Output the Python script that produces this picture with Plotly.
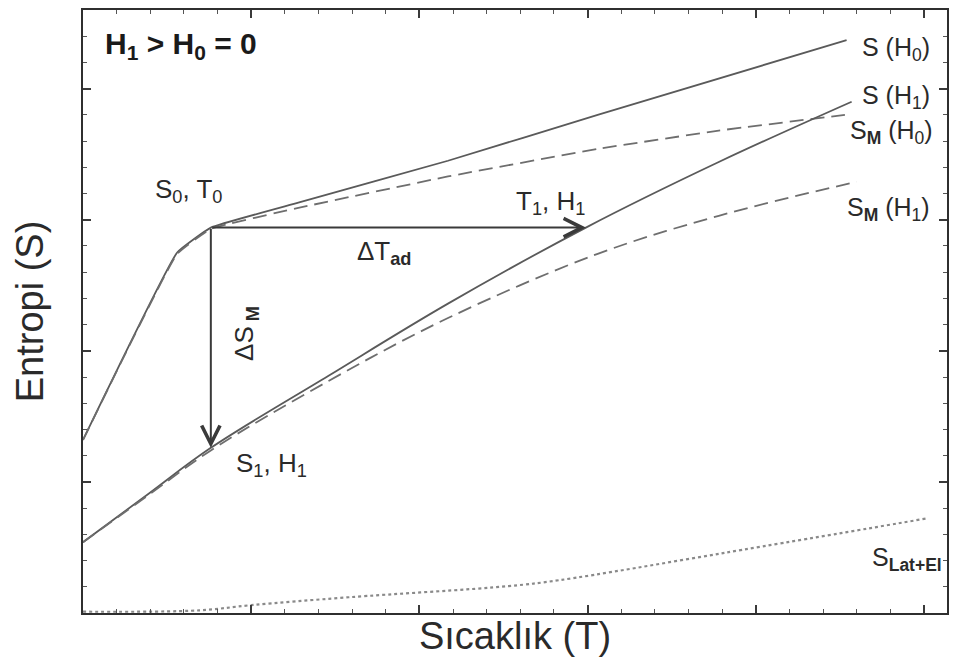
import plotly.graph_objects as go

# Entropy curves vs temperature (arbitrary units)
t_s_h0 = [0.0, 0.56, 0.76, 1.28, 2.17, 3.06, 4.54]
s_s_h0 = [1.32, 2.75, 2.94, 3.13, 3.45, 3.80, 4.37]

t_sm_h0 = [0.0, 0.56, 0.76, 1.28, 2.17, 3.06, 3.78, 4.53]
s_sm_h0 = [1.32, 2.74, 2.93, 3.09, 3.33, 3.54, 3.68, 3.80]

t_s_h1 = [0.0, 0.39, 0.76, 1.46, 2.17, 2.99, 3.78, 4.57]
s_s_h1 = [0.54, 0.91, 1.26, 1.81, 2.36, 2.94, 3.44, 3.90]

t_sm_h1 = [0.0, 0.39, 0.76, 1.46, 2.17, 3.06, 3.78, 4.60]
s_sm_h1 = [0.54, 0.90, 1.24, 1.77, 2.25, 2.74, 3.03, 3.29]

t_lat = [0.0, 0.69, 1.0, 1.58, 2.53, 2.83, 3.82, 5.01]
s_lat = [0.01, 0.02, 0.06, 0.12, 0.205, 0.25, 0.46, 0.72]

# Adiabatic / isothermal process points
T0, S0 = 0.76, 2.94
T1 = 2.99
S1 = 1.26

FONT = "Liberation Sans, Arial, sans-serif"
SOLID = "#5a5a5a"
DASH = "#6e6e6e"

fig = go.Figure()

def curve(x, y, dash, color, width=1.8, smoothing=1.0):
    fig.add_trace(go.Scatter(
        x=x, y=y, mode="lines", showlegend=False, hoverinfo="skip",
        line=dict(color=color, width=width, dash=dash, shape="spline", smoothing=smoothing),
    ))

curve(t_s_h0, s_s_h0, "solid", SOLID, smoothing=0.3)
curve(t_sm_h0, s_sm_h0, "14px,7px", DASH, smoothing=0.3)
curve(t_s_h1, s_s_h1, "solid", SOLID)
curve(t_sm_h1, s_sm_h1, "14px,7px", DASH)
curve(t_lat, s_lat, "dot", "#8a8a8a", 2.2)

annotations = []

# Process arrows
arrow = dict(showarrow=True, arrowhead=5, arrowsize=1.8, arrowwidth=2,
             arrowcolor="#3a3a3a", xref="x", yref="y", axref="x", ayref="y", text="")
annotations.append(dict(arrow, x=T1, y=S0, ax=T0, ay=S0))
annotations.append(dict(arrow, x=T0, y=S1, ax=T0, ay=S0))

def label(x, y, text, size=25, anchor="left", angle=0, color="#2a2a2a"):
    annotations.append(dict(
        x=x, y=y, xref="x", yref="y", text=text, showarrow=False,
        xanchor=anchor, yanchor="middle", textangle=angle,
        font=dict(family=FONT, size=size, color=color),
    ))

label(0.12, 4.33, "<b>H<sub>1</sub> > H<sub>0</sub> = 0</b>", size=30, color="#1a1a1a")
label(0.63, 3.22, "S<sub>0</sub>, T<sub>0</sub>", anchor="center", size=26)
label(1.62, 2.75, "ΔT<sub><b>ad</b></sub>", size=26)
label(0.97, 2.13, "ΔS<sub><b> M</b></sub>", anchor="center", angle=-90, size=26)
label(2.78, 3.13, "T<sub>1</sub>, H<sub>1</sub>", anchor="center", size=26)
label(0.90, 1.13, "S<sub>1</sub>, H<sub>1</sub>", size=26)
label(4.62, 4.30, "S (H<sub>0</sub>)")
label(4.62, 3.94, "S (H<sub>1</sub>)")
label(4.55, 3.67, "S<sub><b>M</b></sub> (H<sub>0</sub>)")
label(4.53, 3.08, "S<sub><b>M</b></sub> (H<sub>1</sub>)")
label(4.68, 0.41, "S<sub><b>Lat+El</b></sub>")

axis_common = dict(
    showgrid=False, zeroline=False, showticklabels=False,
    showline=True, linecolor="#2f2f2f", linewidth=2, mirror="ticks",
    ticks="inside", ticklen=8, tickwidth=1.5, tickcolor="#3a3a3a", dtick=1, tick0=0,
    minor=dict(ticks="inside", ticklen=4, tickwidth=1, tickcolor="#555", dtick=0.2),
)

fig.update_layout(
    width=957, height=665,
    margin=dict(l=83, r=9, t=8, b=52),
    paper_bgcolor="white", plot_bgcolor="white",
    annotations=annotations,
    xaxis=dict(axis_common, range=[0, 5.137],
               title=dict(text="Sıcaklık (T)", standoff=8,
                          font=dict(family=FONT, size=38, color="#2a2a2a"))),
    yaxis=dict(axis_common, range=[0, 4.6],
               title=dict(text="Entropi (S)", standoff=26,
                          font=dict(family=FONT, size=38, color="#2a2a2a"))),
)

fig.write_html("out.html")
